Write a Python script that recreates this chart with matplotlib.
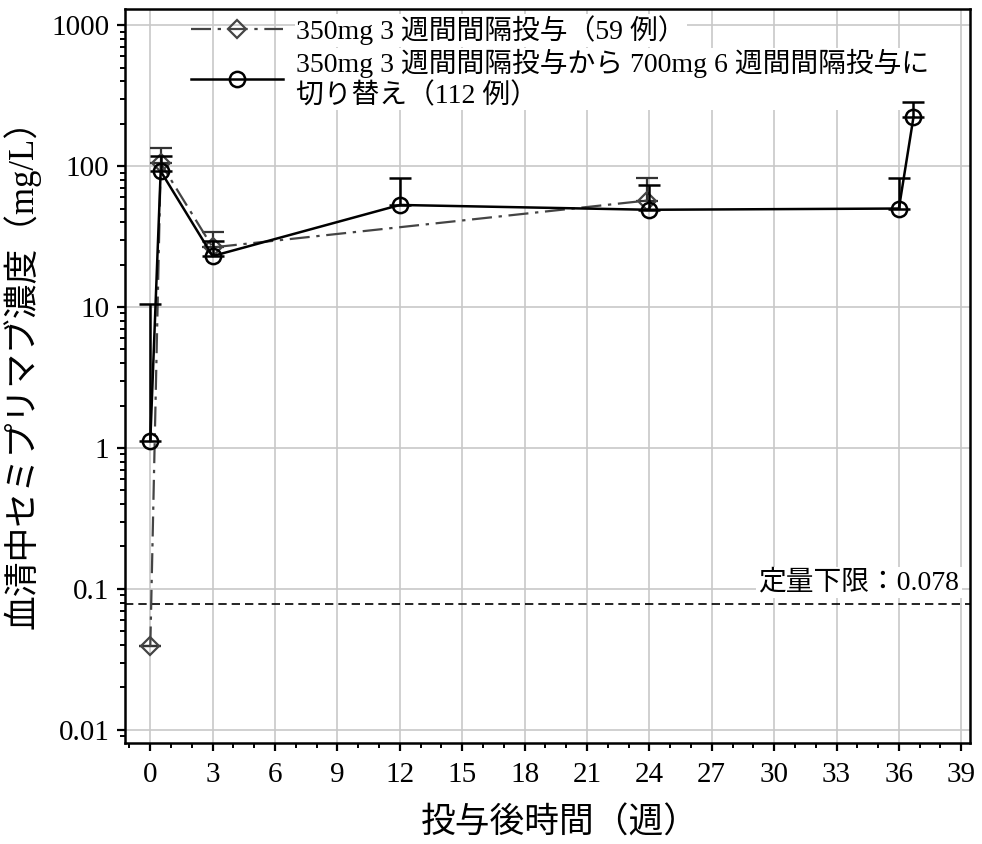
import numpy as np
import matplotlib
matplotlib.use("Agg")
import matplotlib.pyplot as plt
from matplotlib.ticker import FixedLocator, FixedFormatter, LogLocator, MultipleLocator, NullFormatter

plt.rcParams['font.family'] = ['Liberation Serif', 'Noto Sans CJK JP', 'DejaVu Sans']

# ---- data ----
t_q3w = [0, 0.5, 3, 23.9]
c_q3w = [0.039, 105, 26.5, 57]
up_q3w = [np.nan, 134, 34, 83]

t_switch = [0, 0.5, 3, 12, 24, 36, 36.7]
c_switch = [1.12, 92, 23, 53, 49, 50, 222]
up_switch = [10.5, 118, 29.5, 82, 74, 83, 285]

lloq = 0.078
label_q3w = "350mg 3 週間間隔投与（59 例）"
label_switch = "350mg 3 週間間隔投与から 700mg 6 週間間隔投与に\n切り替え（112 例）"
lloq_text = "定量下限：0.078"
xlabel = "投与後時間（週）"
ylabel = "血清中セミプリマブ濃度（mg/L）"
xticks = list(range(0, 40, 3))
yticks = [0.01, 0.1, 1, 10, 100, 1000]
ytick_labels = ["0.01", "0.1", "1", "10", "100", "1000"]

fig = plt.figure(figsize=(9.82, 8.44), dpi=100)
ax = fig.add_axes([0.127, 0.12, 0.861, 0.869])
ax.set_yscale('log')
ax.set_xlim(-1.23, 39.43)
ax.set_ylim(10 ** -2.092, 10 ** 3.113)

# grid
ax.grid(True, which='major', color='#c8c8c8', lw=1.2, zorder=0)
ax.set_axisbelow(True)

# LLOQ line
ax.axhline(lloq, color='black', lw=1.2, ls=(0, (5, 3)), zorder=2)
ax.annotate(lloq_text, xy=(0.987, lloq), xycoords=('axes fraction', 'data'),
            xytext=(0, 6), textcoords='offset points', ha='right', va='bottom',
            fontsize=20, bbox=dict(facecolor='white', edgecolor='none', pad=2), zorder=3)

def err(c, u):
    c = np.array(c, float); u = np.array(u, float)
    up = np.where(np.isnan(u), 0, u - c)
    return [np.zeros_like(c), up]

# series 1
ax.errorbar(t_q3w, c_q3w, yerr=err(c_q3w, up_q3w), fmt='none', ecolor='#333333',
            elinewidth=1.6, capsize=8, capthick=1.6, zorder=4)
l1, = ax.plot(t_q3w, c_q3w, color='#444444', lw=1.6, ls=(0, (9, 3, 1.5, 3)),
              marker='D', ms=9.5, mfc='none', mec='#444444', mew=1.6, zorder=5,
              label=label_q3w)
# series 2
ax.errorbar(t_switch, c_switch, yerr=err(c_switch, up_switch), fmt='none', ecolor='black',
            elinewidth=1.8, capsize=8, capthick=1.8, zorder=6)
l2, = ax.plot(t_switch, c_switch, color='black', lw=1.8, marker='o', ms=11,
              mfc='none', mec='black', mew=1.8, zorder=7, label=label_switch)

# ticks
ax.xaxis.set_major_locator(FixedLocator(xticks))
ax.xaxis.set_minor_locator(MultipleLocator(1))
ax.yaxis.set_major_locator(FixedLocator(yticks))
ax.yaxis.set_major_formatter(FixedFormatter(ytick_labels))
ax.yaxis.set_minor_locator(LogLocator(base=10, subs=np.arange(2, 10)))
ax.yaxis.set_minor_formatter(NullFormatter())
ax.tick_params(which='major', direction='out', length=6, width=1.6, labelsize=21, pad=5)
ax.tick_params(which='minor', direction='out', length=3.5, width=1.4)
ax.tick_params(axis='x', which='major', pad=8)

for s in ax.spines.values():
    s.set_linewidth(1.8)

ax.set_xlabel(xlabel, fontsize=25)
ax.xaxis.set_label_coords(0.515, -0.088)
ax.set_ylabel(ylabel, fontsize=25)
ax.yaxis.set_label_coords(-0.1, 0.515)

leg = ax.legend(handles=[l1, l2], loc='upper left', bbox_to_anchor=(0.052, 1.022),
                frameon=False, fontsize=20, handlelength=3.3, handletextpad=0.5,
                labelspacing=0.15, borderpad=0.3)
for t in leg.get_texts():
    t.set_linespacing(1.2)
    t.set_bbox(dict(facecolor='white', edgecolor='none', pad=1))

fig.savefig("out.png", dpi=100)
